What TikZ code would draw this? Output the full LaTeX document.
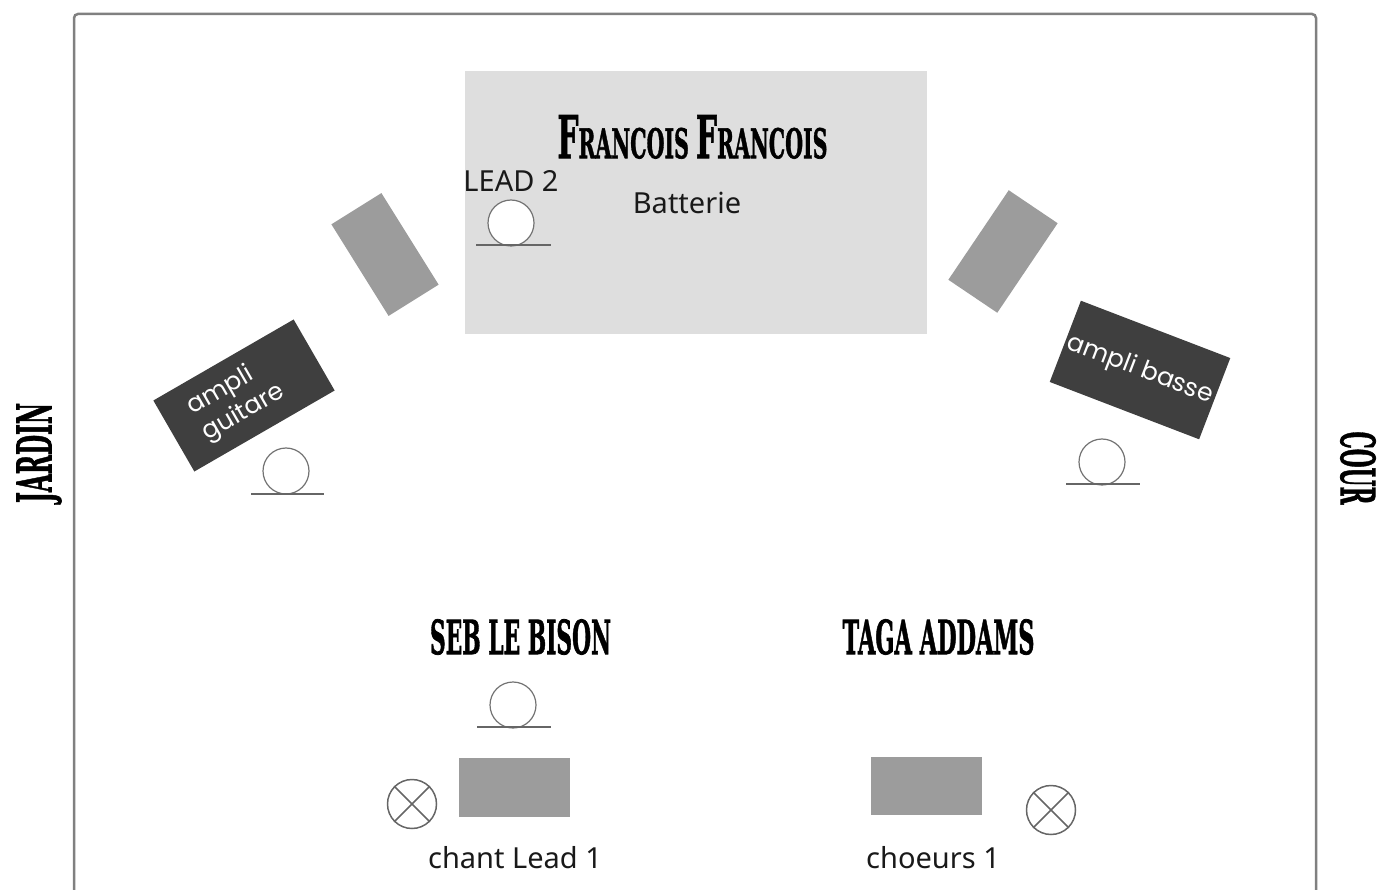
\documentclass[tikz,border=0pt]{standalone}
\usepackage{fontspec}
\usepackage{graphicx}
\setmainfont{Noto Sans}
\newfontfamily\slabfont{DejaVu Serif}[FakeBold=1.6]
\newfontfamily\amplifont{Poppins}
\definecolor{framegray}{HTML}{808080}
\definecolor{drumgray}{HTML}{DEDEDE}
\definecolor{wedgegray}{HTML}{9C9C9C}
\definecolor{ampgray}{HTML}{3F3F3F}
\newcommand{\slab}[3]{\resizebox{#1pt}{#2pt}{\slabfont\bfseries #3}}
\tikzset{
  lbl/.style={inner sep=0pt, font=\fontsize{29}{33}\selectfont, text=black!90},
  slabel/.style={inner sep=0pt},
  wedge/.style={fill=wedgegray, inner sep=0pt, minimum width=108pt, minimum height=59pt},
  amp/.style={fill=ampgray, inner sep=0pt, text=white, align=left, font=\amplifont\fontsize{25}{30}\selectfont},
  mic/.style={circle, draw=black!55, line width=1.2pt, fill=white, inner sep=0pt, minimum size=46pt},
  base/.style={draw=black!60, line width=1.5pt},
  lamp/.style={circle, draw=black!60, line width=1.5pt, inner sep=0pt, minimum size=49pt}
}
\begin{document}
\begin{tikzpicture}[x=1pt,y=-1pt]
\useasboundingbox (0,0) rectangle (1379,890);
\draw[framegray, line width=2.5pt, rounded corners=4pt] (74,910) -- (74,14) -- (1316,14) -- (1316,910);
% batterie
\node[fill=drumgray, inner sep=0pt, minimum width=462pt, minimum height=263pt] (drums) at (696,202.5) {};
\node[slabel] (ff) at (692.5,137) {\slab{270}{43}{{\Large F}RANCOIS {\Large F}RANCOIS}};
\node[lbl] (batterie) at (687,203) {Batterie};
\node[lbl] (lead2) at (511,181) {LEAD 2};
% retours
\node[wedge, rotate=-58] (wedgeL) at (385,254.5) {};
\node[wedge, rotate=56] (wedgeR) at (1003,251.5) {};
% amplis
\node[amp, minimum width=162pt, minimum height=82pt, rotate=30] (ampG) at (244,395.5) {ampli\\guitare\hspace*{18pt}};
\node[amp, minimum width=160pt, minimum height=87pt, rotate=-21] (ampB) at (1140,370) {ampli basse};
% micros
\node[mic] (mic1) at (511,223) {};
\coordinate (mic1a) at (476,245);
\coordinate (mic1b) at (551,245);
\draw[base] (mic1a) -- (mic1b);
\node[mic] (mic2) at (286,471) {};
\coordinate (mic2a) at (251,494);
\coordinate (mic2b) at (324,494);
\draw[base] (mic2a) -- (mic2b);
\node[mic] (mic3) at (1102,462) {};
\coordinate (mic3a) at (1066,484);
\coordinate (mic3b) at (1140,484);
\draw[base] (mic3a) -- (mic3b);
\node[mic] (mic4) at (513,705) {};
\coordinate (mic4a) at (477,727);
\coordinate (mic4b) at (551,727);
\draw[base] (mic4a) -- (mic4b);
% devant
\node[slabel] (seb) at (520.5,637) {\slab{181}{35}{SEB LE BISON}};
\node[slabel] (taga) at (938.5,637) {\slab{192}{35}{TAGA ADDAMS}};
\node[fill=wedgegray, inner sep=0pt, minimum width=111pt, minimum height=59pt] (wedgeS) at (514.5,787.5) {};
\node[fill=wedgegray, inner sep=0pt, minimum width=111pt, minimum height=58pt] (wedgeT) at (926.5,786) {};
\node[lamp] (lampS) at (412,804) {};
\draw[black!60, line width=1.5pt] (lampS.45) -- (lampS.225) (lampS.135) -- (lampS.315);
\node[lamp] (lampT) at (1051,810) {};
\draw[black!60, line width=1.5pt] (lampT.45) -- (lampT.225) (lampT.135) -- (lampT.315);
\node[lbl] (chant) at (515,858) {chant Lead 1};
\node[lbl] (choeurs) at (933,858) {choeurs 1};
% cotes
\node[slabel, rotate=90] (jardin) at (39,453) {\slab{100}{35}{JARDIN}};
\node[slabel, rotate=-90] (cour) at (1358,468) {\slab{73}{35}{COUR}};
\end{tikzpicture}
\end{document}
